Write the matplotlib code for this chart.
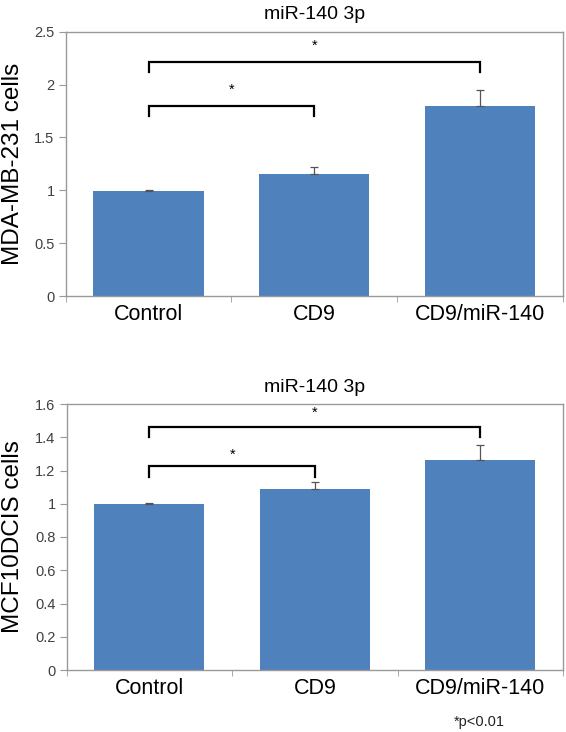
import matplotlib
matplotlib.use("Agg")
import matplotlib.pyplot as plt
import numpy as np

plt.rcParams['font.family'] = ['Liberation Sans', 'DejaVu Sans']

categories = ["Control", "CD9", "CD9/miR-140"]
title = "miR-140 3p"

top_values = [0.995, 1.15, 1.80]
top_err = [0.005, 0.07, 0.15]
top_ylabel = "MDA-MB-231 cells"
top_yticks = [0, 0.5, 1, 1.5, 2, 2.5]
top_yticklabels = ["0", "0.5", "1", "1.5", "2", "2.5"]

bot_values = [1.0, 1.09, 1.263]
bot_err = [0.003, 0.04, 0.09]
bot_ylabel = "MCF10DCIS cells"
bot_yticks = [0, 0.2, 0.4, 0.6, 0.8, 1.0, 1.2, 1.4, 1.6]
bot_yticklabels = ["0", "0.2", "0.4", "0.6", "0.8", "1", "1.2", "1.4", "1.6"]

# brackets: (x_from, x_to, bracket y, leg bottom y, star y)
top_brackets = [(0, 2, 2.215, 2.12, 2.37), (0, 1, 1.80, 1.70, 1.95)]
bot_brackets = [(0, 2, 1.463, 1.404, 1.548), (0, 1, 1.227, 1.163, 1.297)]

bar_color = "#4F81BD"
frame_color = "#999999"

W, H = 566, 732
fig = plt.figure(figsize=(W / 100, H / 100), dpi=100)


def px_axes(left, right, top, bottom):
    return fig.add_axes([left / W, 1 - bottom / H, (right - left) / W, (bottom - top) / H])


ax1 = px_axes(65.7, 563, 31.7, 296)
ax2 = px_axes(66.7, 563, 404, 670)


def draw(ax, values, errs, ylabel, yticks, yticklabels, ymax, brackets, label_x_px, left_px, width_px):
    x = np.arange(len(categories))
    ax.bar(x, values, width=0.665, color=bar_color, zorder=2)
    ax.errorbar(x, values, yerr=[np.zeros(len(errs)), errs], fmt='none',
                ecolor="#555555", elinewidth=0.9, capsize=2.8, capthick=0.9, zorder=3)
    ax.set_xlim(-0.5, 2.5)
    ax.set_ylim(0, ymax)
    ax.set_yticks(yticks)
    ax.set_yticklabels(yticklabels, fontsize=10.5, color="#404040")
    ax.set_xticks(x)
    ax.set_xticklabels(categories, fontsize=15.5)
    ax.tick_params(axis='x', which='major', length=0, pad=6)
    ax.set_xticks([-0.5, 0.5, 1.5, 2.5], minor=True)
    ax.tick_params(axis='x', which='minor', length=4, color=frame_color, direction='out')
    ax.tick_params(axis='y', length=5, color=frame_color, direction='out', pad=3)
    for s in ax.spines.values():
        s.set_color(frame_color)
        s.set_linewidth(1.0)
    ax.set_ylabel(ylabel, fontsize=17.5)
    ax.yaxis.set_label_coords((label_x_px - left_px) / width_px, 0.5)
    ax.set_title(title, fontsize=14, pad=9)
    for (a, b, yb, yl, ys) in brackets:
        ax.plot([a, a, b, b], [yl, yb, yb, yl], color="black", lw=1.6, zorder=4,
                solid_joinstyle='miter')
        ax.text((a + b) / 2, ys, "*", ha='center', va='center', fontsize=10.5)


draw(ax1, top_values, top_err, top_ylabel, top_yticks, top_yticklabels, 2.5, top_brackets,
     24, 65.7, 497.3)
draw(ax2, bot_values, bot_err, bot_ylabel, bot_yticks, bot_yticklabels, 1.6, bot_brackets,
     24, 66.7, 496.3)

fig.text(479 / W, 1 - 722 / H, "*p<0.01", fontsize=10.5, ha='center', va='center', color="#222222")

fig.savefig("out.png", dpi=100)
